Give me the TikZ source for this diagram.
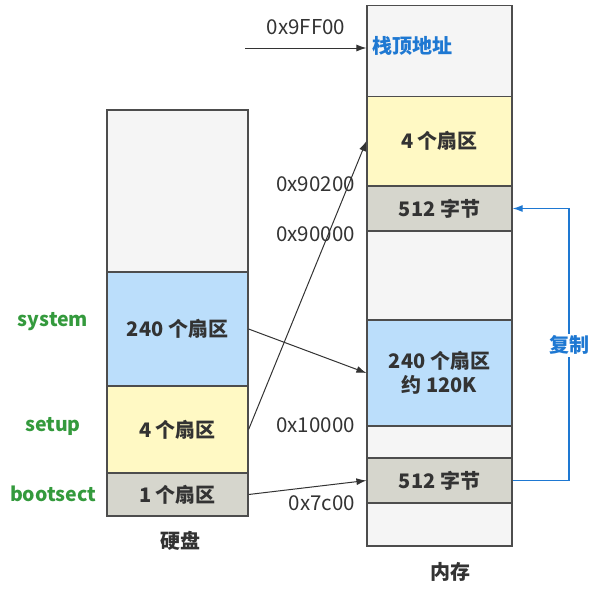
\documentclass[tikz,border=0pt]{standalone}
\usepackage{fontspec}
\setmainfont{Noto Sans CJK SC}
\usepackage{tikz}
\usetikzlibrary{positioning}
\usetikzlibrary{arrows.meta}
\usetikzlibrary{calc}
\definecolor{cellgray}{HTML}{F5F5F5}
\definecolor{cellblue}{HTML}{BBDEFB}
\definecolor{cellyellow}{HTML}{FFF9C4}
\definecolor{cellstone}{HTML}{D6D6CD}
\definecolor{edgegray}{HTML}{4D4D4D}
\definecolor{textdark}{HTML}{333333}
\definecolor{tagblue}{HTML}{1E78D2}
\definecolor{taggreen}{HTML}{349A3D}
\tikzstyle{cell}=[rectangle,draw=edgegray,line width=1.2pt,inner sep=0pt,text=textdark,font=\fontsize{20}{24}\selectfont\bfseries,align=center]
\tikzstyle{addr}=[anchor=east,inner sep=0pt,text=textdark,font=\fontsize{20.5}{24}\selectfont]
\tikzstyle{tag}=[inner sep=0pt,text=taggreen,font=\fontsize{19.5}{24}\selectfont\bfseries]
\tikzstyle{caption}=[inner sep=0pt,text=textdark,font=\fontsize{20}{24}\selectfont\bfseries]
\tikzstyle{link}=[draw=textdark,line width=1pt,-{Latex[length=10pt,width=7pt]}]

\begin{document}
\begin{tikzpicture}[x=1pt,y=-1pt]

  \useasboundingbox (0,0) rectangle (595,590);

  \def\dx{177.5};
  \def\mx{439.5};

  % hard disk
  \foreach \y/\h/\name/\col/\label in {191/162/dtop/cellgray/{}, 329/114/dsys/cellblue/{240 个扇区}, 429.5/87/dsetup/cellyellow/{4 个扇区}, 494.5/43/dboot/cellstone/{1 个扇区}}
          \node[cell, fill=\col, minimum width=141pt, minimum height=\h pt] (\name) at (\dx, \y) {\label};

  % memory
  \foreach \y/\h/\name/\col/\label in {51/91/mtop/cellgray/{}, 141/89/msetup/cellyellow/{4 个扇区}, 208.5/45/mcopy/cellstone/{512 字节}, 275.5/89/mgap/cellgray/{}, 373/106/msys/cellblue/{240 个扇区\\约 120K}, 442/32/mgapb/cellgray/{}, 480.5/45/mboot/cellstone/{512 字节}, 524.5/43/mbottom/cellgray/{}}
          \node[cell, fill=\col, minimum width=145pt, minimum height=\h pt] (\name) at (\mx, \y) {\label};

  \node[inner sep=0pt, anchor=west, text=tagblue, font=\fontsize{20}{24}\selectfont\bfseries] (sp) at (372, 46) {栈顶地址};

  \foreach \y/\name/\label in {322/lsys/system, 426/lsetup/setup, 494/lboot/bootsect}
          \node[tag] (\name) at (53, \y) {\label};

  \node[caption] (disk) at (180, 541) {硬盘};
  \node[caption] (mem) at (450, 572) {内存};

  \foreach \y/\name/\label in {184/a90200/0x90200, 234/a90000/0x90000, 425/a10000/0x10000, 503/a7c00/0x7c00}
          \node[addr] (\name) at (355, \y) {\label};
  \node[addr, anchor=center] (a9ff00) at (306, 27) {0x9FF00};

  \coordinate (spin) at (245, 48);
  \draw[link] (spin) -- (spin -| mtop.west);

  \draw[link] (dsetup.east) -- (msetup.west);
  \draw[link] (dsys.east) -- (msys.west);
  \draw[link] (dboot.east) -- (mboot.west);

  % copy of the boot sector
  \coordinate (cp) at (569, 0);
  \draw[draw=tagblue, line width=1.2pt, -{Latex[length=10pt,width=7pt]}] (mboot.east) -- (mboot.east -| cp) -- (mcopy.east -| cp) -- (mcopy.east);
  \node[fill=white, inner sep=2pt, text=tagblue, font=\fontsize{20}{24}\selectfont\bfseries] (copy) at (569, 345) {复制};

\end{tikzpicture}
\end{document}
